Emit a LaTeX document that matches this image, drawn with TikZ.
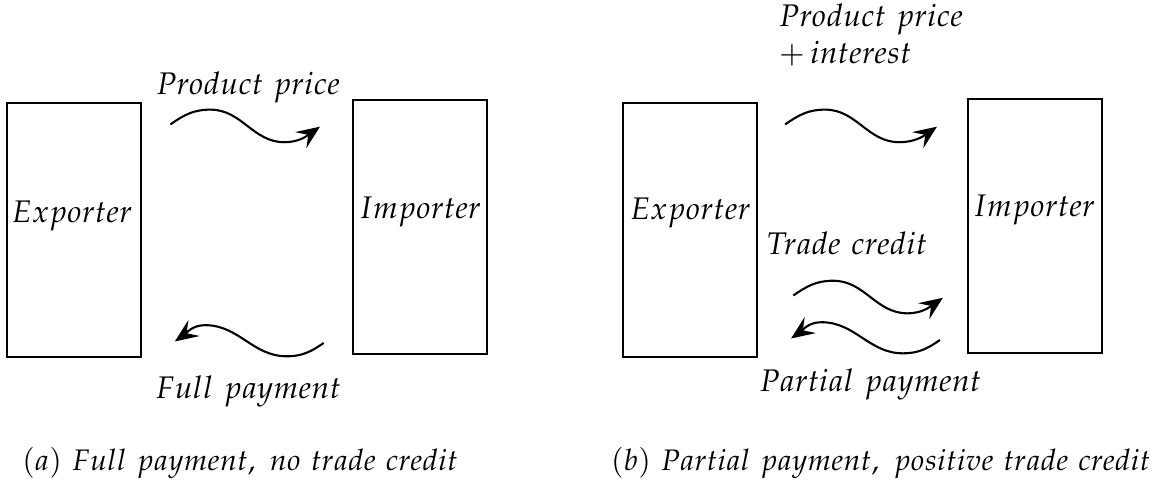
\documentclass[tikz,border=0pt]{standalone}
\usepackage{mathpazo}
\usetikzlibrary{arrows.meta}
\tikzset{>={Stealth[length=9pt,width=7.5pt,inset=3.5pt]},
  firm/.style={draw,minimum width=1.81cm,minimum height=3.43cm},
  caption/.style={font=\fontsize{11.4}{13.7}\selectfont}}
\begin{document}
\begin{tikzpicture}[thick,font=\large]
\useasboundingbox (0,0) rectangle (15.58,6.57);
% (a) full payment
\node[firm] (expA) at(1,3.47) {};
\node[firm] (impA) at(5.67,3.5) {};
\node (expAtxt) at(.97,3.65) {$Exporter$};
\node (impAtxt) at(5.67,3.71) {$Importer$};
\coordinate (a1) at(2.3,4.89);
\coordinate (a2) at(4.32,4.86);
\draw[->] (a1) to[out=35,in=180] ++(.54,.2) to[out=0,in=180] ++(1,-.44) to[out=0,in=215] (a2);
\node (priceA) at(3.35,5.39) {$Product\ price$};
\coordinate (a3) at(4.37,1.94);
\coordinate (a4) at(2.36,1.96);
\draw[->] (a3) to[out=215,in=0] ++(-.5,-.18) to[out=180,in=0] ++(-1.1,.42) to[out=180,in=35] (a4);
\node (payA) at(3.35,1.28) {$Full\ payment$};
\node[caption] (capA) at(3.24,.32) {$(a)\ Full\ payment,\ no\ trade\ credit$};
% (b) partial payment
\node[firm] (expB) at(9.32,3.47) {};
\node[firm] (impB) at(13.97,3.52) {};
\node (expBtxt) at(9.32,3.69) {$Exporter$};
\node (impBtxt) at(13.96,3.74) {$Importer$};
\coordinate (b1) at(10.6,4.89);
\coordinate (b2) at(12.65,4.86);
\draw[->] (b1) to[out=35,in=180] ++(.54,.2) to[out=0,in=180] ++(1,-.44) to[out=0,in=215] (b2);
\node[align=left] (priceB) at(11.76,6.1) {$Product\ price$\\$+\,interest$};
\coordinate (b3) at(10.71,2.58);
\coordinate (b4) at(12.73,2.55);
\draw[->] (b3) to[out=35,in=180] ++(.54,.2) to[out=0,in=180] ++(1,-.44) to[out=0,in=215] (b4);
\node (credB) at(11.43,3.29) {$Trade\ credit$};
\coordinate (b5) at(12.69,1.98);
\coordinate (b6) at(10.68,2);
\draw[->] (b5) to[out=215,in=0] ++(-.5,-.18) to[out=180,in=0] ++(-1.1,.42) to[out=180,in=35] (b6);
\node (payB) at(11.75,1.38) {$Partial\ payment$};
\node[caption] (capB) at(11.89,.32) {$(b)\ Partial\ payment,\ positive\ trade\ credit$};
\end{tikzpicture}
\end{document}
